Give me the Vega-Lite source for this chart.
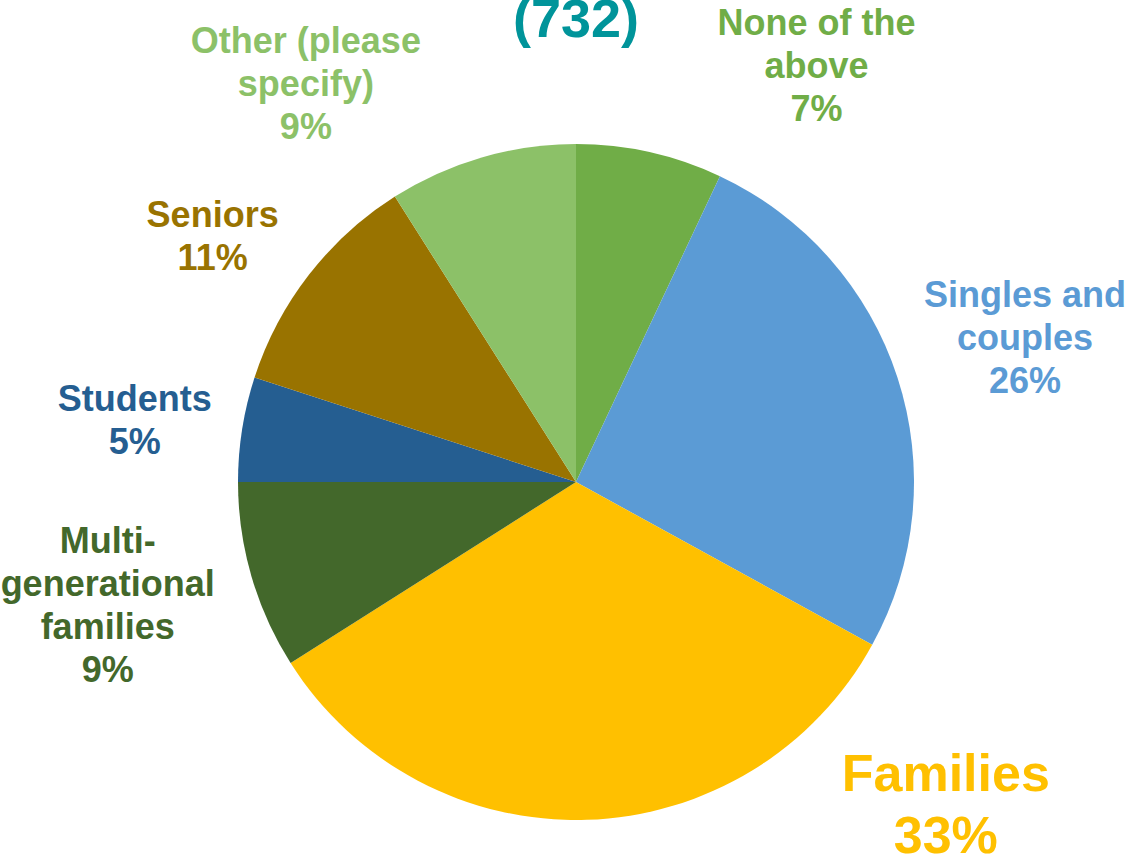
{
  "$schema": "https://vega.github.io/schema/vega-lite/v6.json",
  "width": 676,
  "height": 676,
  "autosize": {"type": "none"},
  "padding": {"left": 238, "top": 144, "right": 219, "bottom": 38},
  "background": "white",
  "view": {"stroke": null},
  "title": {
    "text": "(732)",
    "font": "Liberation Sans",
    "fontSize": 54,
    "fontWeight": "bold",
    "color": "#00949A",
    "anchor": "middle",
    "frame": "group",
    "baseline": "alphabetic",
    "offset": 0,
    "dy": 271
  },
  "data": {
    "values": [
      {"cat": "None of the above", "pct": 7, "ord": 1, "label": "None of the\nabove\n7%"},
      {"cat": "Singles and couples", "pct": 26, "ord": 2, "label": "Singles and\ncouples\n26%"},
      {"cat": "Families", "pct": 33, "ord": 3, "label": "Families\n33%"},
      {"cat": "Multi-generational families", "pct": 9, "ord": 4, "label": "Multi-\ngenerational\nfamilies\n9%"},
      {"cat": "Students", "pct": 5, "ord": 5, "label": "Students\n5%"},
      {"cat": "Seniors", "pct": 11, "ord": 6, "label": "Seniors\n11%"},
      {"cat": "Other (please specify)", "pct": 9, "ord": 7, "label": "Other (please\nspecify)\n9%"}
    ]
  },
  "encoding": {
    "theta": {"field": "pct", "type": "quantitative", "stack": true},
    "order": {"field": "ord", "type": "quantitative"},
    "color": {
      "field": "cat",
      "type": "nominal",
      "scale": {
        "domain": ["None of the above", "Singles and couples", "Families", "Multi-generational families", "Students", "Seniors", "Other (please specify)"],
        "range": ["#70AD47", "#5B9BD5", "#FFC000", "#43682B", "#255E91", "#997300", "#8CC168"]
      },
      "legend": null
    }
  },
  "layer": [
    {"mark": {"type": "arc", "stroke": null}},
    {
      "mark": {"type": "text", "radius": 470, "font": "Liberation Sans", "fontSize": 36, "fontWeight": "bold", "lineBreak": "\n", "lineHeight": 43, "align": "center", "baseline": "middle", "dx": 138, "dy": 1},
      "encoding": {"text": {"condition": {"test": "datum.cat === 'None of the above'", "field": "label", "type": "nominal"}, "value": ""}}
    },
    {
      "mark": {"type": "text", "radius": 470, "font": "Liberation Sans", "fontSize": 36, "fontWeight": "bold", "lineBreak": "\n", "lineHeight": 43, "align": "center", "baseline": "middle", "dx": 2, "dy": -41},
      "encoding": {"text": {"condition": {"test": "datum.cat === 'Singles and couples'", "field": "label", "type": "nominal"}, "value": ""}}
    },
    {
      "mark": {"type": "text", "radius": 470, "font": "Liberation Sans", "fontSize": 52, "fontWeight": "bold", "lineBreak": "\n", "lineHeight": 62, "align": "center", "baseline": "middle", "dx": 355, "dy": -177},
      "encoding": {"text": {"condition": {"test": "datum.cat === 'Families'", "field": "label", "type": "nominal"}, "value": ""}}
    },
    {
      "mark": {"type": "text", "radius": 470, "font": "Liberation Sans", "fontSize": 36, "fontWeight": "bold", "lineBreak": "\n", "lineHeight": 43, "align": "center", "baseline": "middle", "dx": -17, "dy": -71},
      "encoding": {"text": {"condition": {"test": "datum.cat === 'Multi-generational families'", "field": "label", "type": "nominal"}, "value": ""}}
    },
    {
      "mark": {"type": "text", "radius": 470, "font": "Liberation Sans", "fontSize": 36, "fontWeight": "bold", "lineBreak": "\n", "lineHeight": 43, "align": "center", "baseline": "middle", "dx": 23, "dy": -8},
      "encoding": {"text": {"condition": {"test": "datum.cat === 'Students'", "field": "label", "type": "nominal"}, "value": ""}}
    },
    {
      "mark": {"type": "text", "radius": 470, "font": "Liberation Sans", "fontSize": 36, "fontWeight": "bold", "lineBreak": "\n", "lineHeight": 43, "align": "center", "baseline": "middle", "dx": 8, "dy": 22},
      "encoding": {"text": {"condition": {"test": "datum.cat === 'Seniors'", "field": "label", "type": "nominal"}, "value": ""}}
    },
    {
      "mark": {"type": "text", "radius": 470, "font": "Liberation Sans", "fontSize": 36, "fontWeight": "bold", "lineBreak": "\n", "lineHeight": 43, "align": "center", "baseline": "middle", "dx": -139, "dy": 11},
      "encoding": {"text": {"condition": {"test": "datum.cat === 'Other (please specify)'", "field": "label", "type": "nominal"}, "value": ""}}
    }
  ]
}
